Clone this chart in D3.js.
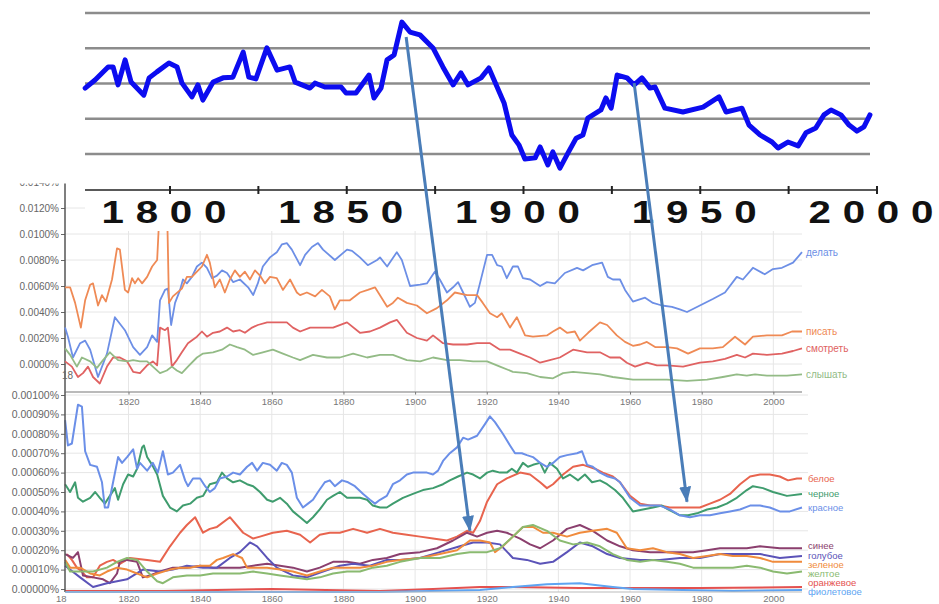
<!DOCTYPE html>
<html>
<head>
<meta charset="utf-8">
<script src="https://cdn.jsdelivr.net/npm/d3@7"></script>
<style>
  body { margin: 0; background: #fff; }
  svg { display: block; font-family: "Liberation Sans", Arial, sans-serif; }
</style>
</head>
<body>
<div id="wrapper"></div>
<script>
// ---- data ----
// top index curve: [year, index value]
const topCurve = [[1776,1.87],[1778.8,2.10],[1782.5,2.47],[1783.9,2.47],[1785.3,1.96],[1787.3,2.67],[1789,2.04],[1792.6,1.67],[1794.1,2.16],[1796.3,2.33],[1799.7,2.58],[1802,2.47],[1803.4,2.01],[1806.2,1.62],[1807.9,1.96],[1809.3,1.53],[1812.2,2.04],[1815,2.16],[1817.8,2.18],[1820.7,2.89],[1822.3,2.18],[1824.3,2.13],[1827.4,3.01],[1830.3,2.38],[1833.9,2.47],[1835.4,2.04],[1839.6,1.87],[1841,2.01],[1843.8,1.90],[1848.4,1.90],[1849.8,1.73],[1852.6,1.73],[1856.3,2.24],[1857.7,1.59],[1859.7,1.87],[1861.4,2.67],[1863.4,2.81],[1865.6,3.74],[1867.9,3.46],[1870.7,3.38],[1874.4,3.01],[1877.2,2.47],[1880.1,1.96],[1882.3,2.30],[1884.3,1.96],[1888,2.16],[1890.2,2.44],[1894.5,1.45],[1896.7,0.54],[1898.7,0.26],[1900.4,-0.14],[1903.3,-0.11],[1904.7,0.20],[1906.9,-0.31],[1908.3,0.06],[1910.3,-0.40],[1912.6,0.03],[1914.9,0.45],[1916.8,0.54],[1918.2,1.02],[1921.9,1.25],[1923.3,1.59],[1924.8,1.30],[1926.5,2.24],[1929.3,2.16],[1931.3,1.96],[1933.5,2.16],[1935.8,1.87],[1937.2,1.90],[1940,1.30],[1945.1,1.19],[1950.8,1.33],[1955.3,1.62],[1957.3,1.19],[1961.8,1.30],[1963.8,0.82],[1966.9,0.54],[1970.3,0.34],[1972,0.17],[1974.8,0.34],[1977.7,0.23],[1979.9,0.60],[1982.7,0.74],[1985,1.11],[1987,1.25],[1989.8,1.11],[1992.1,0.82],[1994.3,0.65],[1996.3,0.77],[1998,1.11]];
const topGrid = [0, 1, 2, 3, 4];
const topTicks = [1800, 1825, 1850, 1875, 1900, 1925, 1950, 1975, 2000];
const topLabels = [1800, 1850, 1900, 1950, 2000];

// middle chart, values in units of 0.0001 %
const delat = [[1802.3,28],[1803.1,21],[1804.5,5],[1806.5,16],[1807.9,18],[1809.3,11],[1811.5,-10],[1814,8],[1816.2,36],[1819,26],[1821.3,13],[1823.2,7],[1825.2,13],[1826.6,22],[1828,17],[1828.8,49],[1830.2,57],[1831,58],[1831.9,30],[1833,47],[1834.4,57],[1835.2,65],[1836.3,62],[1837.7,67],[1839.1,75],[1840.5,78],[1841.9,74],[1843.3,66],[1844.7,68],[1846.1,72],[1847.5,70],[1849.2,63],[1851.1,65],[1853.4,59],[1854.8,53],[1856.1,62],[1857.5,75],[1859.5,82],[1861.4,86],[1862.8,92],[1864.2,93],[1865.6,88],[1867.9,76],[1869.3,84],[1871.2,90],[1872.9,93],[1874.3,88],[1877.6,80],[1881,88],[1882.4,87],[1884.6,82],[1886.8,76],[1889.4,80],[1890.2,82],[1892.2,75],[1894.9,86],[1896.3,80],[1898.6,60],[1901.4,61],[1903.3,62],[1905.5,71],[1906.9,65],[1908.9,55],[1910.6,59],[1912,63],[1913.4,55],[1915.3,44],[1916.7,47],[1918.1,62],[1920.1,84],[1921.5,84],[1922.9,76],[1924.2,75],[1925.6,66],[1927.3,75],[1928.7,75],[1930.1,66],[1932.1,65],[1934.9,60],[1936.8,63],[1939,62],[1941.8,70],[1945.2,74],[1946.9,72],[1949.4,76],[1952.2,78],[1953.8,67],[1955.2,65],[1957.2,65],[1958.6,57],[1960.8,48],[1964.2,51],[1966.4,47],[1968.9,45],[1971.7,44],[1973.9,42],[1975.9,40],[1979.5,45],[1983.1,50],[1986.5,55],[1989.8,67],[1991.5,65],[1994.3,74],[1997.6,69],[1999.9,73],[2002.4,74],[2005.5,78],[2008,86]];
const pisat = [[1802.3,59],[1803.7,59],[1805.1,47],[1806.7,28],[1807.9,49],[1809.3,61],[1810.1,62],[1811.5,45],[1812.6,53],[1813.7,48],[1815.4,65],[1816.8,89],[1817.6,88],[1819,57],[1819.9,55],[1821,66],[1821.8,62],[1822.7,66],[1823.8,62],[1825.2,67],[1826.6,75],[1828,80],[1828.8,125],[1829.9,135],[1830.7,130],[1831.3,47],[1832.4,52],[1834.9,58],[1836.3,67],[1837.7,67],[1839.1,71],[1840.5,75],[1841.9,84],[1842.7,78],[1844.1,59],[1845.5,65],[1846.9,55],[1848.3,65],[1849.7,72],[1851.1,67],[1852.5,71],[1853.9,65],[1855.3,72],[1856.7,68],[1858.1,62],[1859.5,67],[1861.4,66],[1863.1,57],[1865.1,65],[1867,55],[1867.9,53],[1869.8,55],[1872.1,52],[1874,57],[1876.2,52],[1877.6,42],[1879,49],[1881.8,49],[1884.6,55],[1886.8,57],[1888.8,59],[1892.2,44],[1893.8,47],[1895.2,51],[1897.7,47],[1900.5,45],[1903.3,39],[1906.1,43],[1908.9,49],[1911.1,55],[1914.5,53],[1917.3,53],[1918.9,47],[1920.9,39],[1922.9,36],[1924.2,39],[1926.5,28],[1928.4,36],[1930.7,22],[1932.9,21],[1936.8,22],[1938.5,25],[1940.4,28],[1942.4,24],[1944.6,25],[1946,18],[1948.3,24],[1951.6,32],[1953.6,30],[1956.3,22],[1958.6,17],[1960.8,14],[1962.8,15],[1964.7,17],[1967,13],[1970.3,13],[1973.1,12],[1976.2,8],[1979.5,12],[1983.1,12],[1985.9,13],[1989.3,21],[1992.1,15],[1994.3,21],[1998.2,22],[2002.4,22],[2005.2,25],[2008,25]];
const smotret = [[1802.3,2],[1804.2,-2],[1805.9,-10],[1807.3,-7],[1808.7,-2],[1810.1,-10],[1812,-15],[1814,-2],[1815.7,5],[1817.6,5],[1819.6,2],[1821.3,-6],[1823.2,-7],[1825.2,-1],[1826.8,2],[1828,-1],[1828.8,28],[1830.2,26],[1831,28],[1832.1,-2],[1833.5,3],[1834.9,9],[1836.6,16],[1839.1,21],[1840.5,25],[1841.9,21],[1843.6,24],[1845.5,25],[1847.5,28],[1849.2,25],[1851.1,26],[1852.5,24],[1854.5,28],[1856.1,30],[1858.7,32],[1860.3,32],[1862.8,32],[1864.2,32],[1865.9,28],[1867.9,25],[1870.7,28],[1874.3,28],[1877.1,28],[1881,32],[1884.6,24],[1887.4,25],[1890.2,28],[1893,32],[1894.9,34],[1897.7,24],[1900.5,20],[1903.3,18],[1905,22],[1907.8,16],[1910.6,15],[1914.5,15],[1917.3,16],[1920.9,16],[1923.7,11],[1926.5,11],[1929.3,8],[1932.1,5],[1934.9,1],[1937.6,3],[1940.4,5],[1944.1,11],[1948,9],[1951.6,9],[1954.4,5],[1957.2,5],[1959.1,1],[1961.4,-2],[1964.7,1],[1967.5,-1],[1970.3,-1],[1974.8,-2],[1979.5,1],[1983.1,2],[1986.5,4],[1989.8,7],[1992.1,5],[1994.3,8],[1998.2,7],[2002.4,8],[2005.5,10],[2008,12]];
const slyshat = [[1802.3,12],[1803.7,7],[1805.6,-2],[1807,5],[1809.3,2],[1811.2,-3],[1812.9,3],[1814.8,9],[1817.1,3],[1819.6,2],[1821.3,3],[1823.2,2],[1825.2,2],[1826.8,-2],[1828.8,-7],[1830.7,-5],[1832.1,-2],[1833.5,-5],[1834.9,-7],[1836.6,-2],[1839.1,5],[1840.8,8],[1843.6,9],[1846.1,11],[1848.3,15],[1850.3,13],[1852.5,11],[1854.8,7],[1857.5,9],[1860.3,11],[1863.1,8],[1865.9,5],[1867.9,3],[1871.5,7],[1875.4,5],[1879,5],[1882.7,8],[1886.6,5],[1890.2,7],[1893.8,7],[1897.7,3],[1901.4,2],[1905,5],[1908.9,3],[1912.5,3],[1916.2,2],[1920.1,2],[1923.7,-2],[1927.3,-6],[1931.2,-7],[1934.9,-10],[1938.5,-11],[1941.3,-7],[1944.1,-6],[1948,-7],[1951.6,-8],[1955.2,-10],[1960.8,-12],[1965.6,-12],[1970.3,-12],[1975.9,-13],[1981.5,-12],[1985.9,-10],[1989.8,-8],[1992.6,-9],[1994.9,-8],[1998.2,-9],[2003.8,-9],[2008,-8]];
const midTicks = [0, 20, 40, 60, 80, 100, 120, 140];
const yearTicks = [1820, 1840, 1860, 1880, 1900, 1920, 1940, 1960, 1980, 2000];

// bottom chart, values in units of 0.00001 %
const beloe = [[1802.8,18],[1804.2,15],[1805.6,11],[1807,9],[1808.4,6],[1810.1,6],[1812,12],[1814,14],[1815.7,15],[1817.6,13],[1820.4,16],[1825.2,15],[1828.8,14],[1831.6,22],[1834.4,29],[1836.3,33],[1838.6,37],[1840.8,29],[1842.7,31],[1844.7,32],[1848.3,37],[1852,29],[1854.8,26],[1856.7,27],[1860.3,29],[1864.2,30],[1867.9,28],[1870.7,24],[1873.4,28],[1876.2,29],[1879,29],[1882.7,31],[1886.6,29],[1890.2,31],[1893.8,29],[1897.7,28],[1901.4,27],[1905,26],[1908.9,25],[1911.7,27],[1914.5,30],[1916.2,29],[1918.1,35],[1920.1,45],[1922.9,54],[1925.6,57],[1929.3,60],[1932.1,59],[1934.9,55],[1936.8,52],[1938.5,54],[1941.3,59],[1944.1,63],[1946.9,64],[1950.2,62],[1952.4,60],[1955.2,58],[1957.2,55],[1960,48],[1962.8,44],[1965.6,43],[1968.3,43],[1971.1,42],[1973.9,42],[1976.7,42],[1979.5,42],[1982.3,44],[1985.1,46],[1987.9,49],[1990.7,54],[1993.5,58],[1996.3,59],[1999,59],[2001.8,58],[2004.1,56],[2006.6,57],[2008,57]];
const chernoe = [[1802.3,54],[1803.7,50],[1805.1,55],[1805.9,47],[1807.3,45],[1809.3,47],[1810.7,50],[1812,47],[1813.4,44],[1814.8,48],[1816.2,52],[1817.1,46],[1818.5,54],[1819.9,59],[1821.3,58],[1822.4,62],[1823.8,73],[1824.3,74],[1825.2,68],[1826.6,64],[1828,59],[1829.6,48],[1831.6,42],[1833.5,40],[1835.2,43],[1837.2,44],[1839.1,47],[1840.8,48],[1842.7,54],[1844.7,55],[1846.1,60],[1847.5,57],[1849.2,55],[1851.1,56],[1853.1,54],[1854.8,53],[1856.7,50],[1858.7,46],[1860.3,45],[1862.3,47],[1864.2,44],[1865.9,40],[1867.9,37],[1869.8,34],[1871.5,37],[1873.4,41],[1875.4,46],[1877.1,48],[1879,50],[1881,47],[1882.7,47],[1884.6,47],[1886.6,46],[1888.2,43],[1890.2,42],[1892.1,42],[1893.8,44],[1896.6,47],[1899.4,49],[1902.2,51],[1905,52],[1907.8,54],[1909.7,56],[1912,58],[1914.5,60],[1916.2,59],[1918.1,57],[1920.1,60],[1921.7,61],[1923.7,60],[1925.6,60],[1927,62],[1928.4,60],[1930.1,65],[1931.5,63],[1932.9,64],[1934.9,65],[1936.2,60],[1937.6,65],[1939.6,62],[1941.3,57],[1943.2,59],[1945.5,56],[1947.4,59],[1949.4,55],[1951.6,56],[1953.6,54],[1955.8,51],[1958,47],[1960.8,40],[1963.6,41],[1966.4,42],[1968.9,43],[1970.6,41],[1973.9,38],[1976.2,38],[1978.7,39],[1981.5,41],[1984.3,42],[1987,44],[1989.8,47],[1992.6,51],[1994.3,53],[1997.1,52],[1999.9,50],[2003.8,48],[2008,49]];
const krasnoe = [[1802.3,87],[1803.1,74],[1804.2,75],[1805.9,95],[1807,94],[1807.9,71],[1809.3,64],[1811.2,63],[1812.6,55],[1813.4,42],[1814.3,42],[1815.7,55],[1817.1,68],[1818.2,65],[1819.6,68],[1821.3,72],[1822.4,62],[1823.2,65],[1825.2,61],[1826.8,65],[1828.2,60],[1829.6,71],[1831,59],[1832.4,60],[1834.4,64],[1835.8,56],[1836.6,53],[1838,57],[1840,57],[1841.4,53],[1842.7,50],[1844.1,52],[1845.5,57],[1847.5,58],[1849.2,60],[1851.1,59],[1853.1,63],[1854.5,65],[1855.9,61],[1857.5,65],[1859.5,64],[1861.4,61],[1862.8,65],[1864.2,64],[1865.6,60],[1867,47],[1868.7,42],[1870.1,44],[1871.5,46],[1872.9,50],[1874.8,55],[1876.2,56],[1877.6,53],[1879.6,56],[1881.3,55],[1883.2,53],[1885.5,49],[1887.4,46],[1888.8,44],[1890.2,46],[1892.1,48],[1893.8,54],[1895.8,56],[1897.7,59],[1899.4,60],[1901.4,60],[1903.3,60],[1905,59],[1906.4,61],[1907.8,66],[1909.7,70],[1911.7,73],[1913.4,78],[1914.8,77],[1917.3,79],[1919.5,85],[1920.9,89],[1922.3,86],[1924.5,80],[1926.5,74],[1927.9,70],[1929.8,70],[1931.2,69],[1932.9,68],[1934.9,65],[1936.8,63],[1938.5,65],[1940.4,68],[1942.4,69],[1945.2,70],[1946.6,71],[1948,64],[1949.6,63],[1951.6,60],[1953.8,58],[1955.8,57],[1957.2,55],[1960,47],[1962.8,43],[1965.6,43],[1968.3,43],[1971.1,41],[1973.9,38],[1976.7,37],[1979.5,38],[1982.3,38],[1985.1,39],[1987.9,40],[1990.7,41],[1993.5,43],[1996.3,43],[1999,42],[2001.8,40],[2004.6,40],[2008,42]];
const sinee = [[1802.3,18],[1804.5,16],[1805.9,19],[1807.3,7],[1810.1,6],[1812.9,5],[1814.8,3],[1816.8,8],[1817.6,14],[1819.6,15],[1822.4,14],[1824,6],[1826,7],[1828.8,9],[1832.4,11],[1836.3,11],[1840,12],[1843.6,11],[1847.5,11],[1851.1,11],[1854.8,12],[1858.7,13],[1862.3,12],[1865.9,11],[1869.8,9],[1873.4,11],[1877.1,14],[1881,14],[1884.6,13],[1888.2,15],[1892.1,16],[1895.8,18],[1901.4,19],[1906.1,21],[1910.6,25],[1914.5,29],[1917.3,27],[1920.1,29],[1922.9,30],[1925.6,29],[1929.3,26],[1932.1,23],[1934.9,21],[1938.5,25],[1942.4,31],[1946,33],[1949.6,30],[1953.6,25],[1957.2,22],[1960.8,20],[1965.6,19],[1970.3,19],[1973.9,19],[1977.6,19],[1981.5,20],[1985.1,21],[1992.6,21],[1996.3,22],[2001.8,21],[2008,21]];
const goluboe = [[1802.3,12],[1806.5,6],[1810.1,1],[1814,3],[1819.6,5],[1824,10],[1828.8,9],[1832.4,10],[1836.3,12],[1840.8,11],[1844.7,11],[1848.3,16],[1851.1,19],[1853.9,24],[1855.9,22],[1858.7,16],[1861.4,11],[1865.9,7],[1869.8,6],[1874.3,9],[1879,12],[1882.7,13],[1887.4,12],[1892.1,15],[1895.8,15],[1901.4,16],[1906.9,19],[1912.5,22],[1916.2,24],[1920.1,24],[1923.7,23],[1927.3,16],[1931.2,15],[1934.9,13],[1938.5,14],[1942.4,19],[1946,24],[1949.6,22],[1953.6,18],[1957.2,16],[1962.8,15],[1968.3,15],[1973.9,16],[1979.5,16],[1985.1,18],[1996.3,18],[2001.8,16],[2008,17]];
const zelenoe = [[1802.3,15],[1803.7,11],[1806.5,11],[1809.3,8],[1812,7],[1814,9],[1816.8,11],[1819.6,10],[1822.4,8],[1825.2,6],[1828,8],[1831.6,10],[1834.4,11],[1837.2,11],[1840,12],[1842.7,12],[1844.7,15],[1846.4,16],[1849.2,18],[1851.7,16],[1853.1,11],[1854.8,11],[1858.7,11],[1862.3,10],[1865.9,9],[1869.8,7],[1873.4,9],[1877.1,11],[1881,11],[1884.6,11],[1888.2,12],[1892.1,14],[1895.8,15],[1901.4,16],[1906.9,18],[1911.7,20],[1915.3,25],[1918.1,25],[1920.9,24],[1922.3,19],[1924.5,22],[1927.3,27],[1930.1,32],[1932.9,32],[1935.7,29],[1938.5,29],[1942.4,27],[1946,29],[1949.6,30],[1953.6,31],[1956.3,29],[1959.1,21],[1962.8,20],[1966.4,21],[1970.3,19],[1973.9,18],[1977.6,16],[1981.5,17],[1985.1,18],[1988.7,17],[1992.6,17],[1996.3,16],[1999.9,14],[2003.8,14],[2008,14]];
const zheltoe = [[1802.3,14],[1803.7,9],[1806.5,9],[1810.1,9],[1814,11],[1816.8,14],[1819.6,16],[1822.4,15],[1825.2,9],[1828,4],[1829.6,3],[1832.4,6],[1836.3,7],[1840,7],[1843.6,8],[1847.5,8],[1851.1,8],[1854.8,9],[1858.7,8],[1862.3,7],[1865.9,6],[1869.8,5],[1873.4,6],[1877.1,8],[1881,9],[1884.6,9],[1888.2,11],[1892.1,12],[1895.8,14],[1901.4,16],[1906.9,16],[1911.7,18],[1915.3,19],[1920.1,19],[1923.7,21],[1927.3,27],[1930.1,32],[1932.9,33],[1936.8,30],[1940.4,25],[1944.1,23],[1948,24],[1951.6,22],[1955.2,18],[1959.1,15],[1962.8,14],[1966.4,15],[1970.3,14],[1973.9,13],[1977.6,11],[1981.5,11],[1985.1,11],[1988.7,11],[1992.6,12],[1996.3,11],[1999.9,9],[2003.8,8],[2008,9]];
const oranzhevoe = [[1802.3,-1],[1830,-1],[1860,0],[1890.2,-1],[1905,0],[1918.1,1],[1927.3,1],[1946,0.5],[1960.8,0.5],[1979.5,0.5],[2008,1]];
const fioletovoe = [[1802.3,-1.5],[1890.2,-1.5],[1918.1,-0.5],[1927.3,1],[1936.8,2.5],[1946,3],[1955.2,1],[1960.8,0],[1988.7,-1],[2008,-0.5]];
const botTicks = [0, 10, 20, 30, 40, 50, 60, 70, 80, 90, 100];

// arrows: from a point of the top curve to a point of the bottom chart
const arrowLinks = [
  { fromYear: 1866.8, fromVal: 3.32, toYear: 1915.3, toVal: 30 },
  { fromYear: 1931.3, fromVal: 2.01, toYear: 1975.9, toVal: 45 }
];

const midSeries = [
  { name: "делать", color: "#6d8fe6", points: delat },
  { name: "писать", color: "#ef8a55", points: pisat },
  { name: "смотреть", color: "#e06262", points: smotret },
  { name: "слышать", color: "#93bb86", points: slyshat }
];
const botSeries = [
  { name: "белое", color: "#e8644e", points: beloe },
  { name: "черное", color: "#3f9c6e", points: chernoe },
  { name: "красное", color: "#6b8fe8", points: krasnoe },
  { name: "синее", color: "#8b3f6e", points: sinee },
  { name: "голубое", color: "#5b53b8", points: goluboe },
  { name: "зеленое", color: "#f08b3c", points: zelenoe },
  { name: "желтое", color: "#8aba70", points: zheltoe },
  { name: "оранжевое", color: "#e4514f", points: oranzhevoe },
  { name: "фиолетовое", color: "#5ea4f2", points: fioletovoe }
];

// ---- canvas ----
const W = 939, H = 604;
const svg = d3.select("#wrapper").append("svg").attr("width", W).attr("height", H);

const xYear = d3.scaleLinear().domain([1802, 2008]).range([64, 802]);
const yMid = d3.scaleLinear().domain([-20, 140]).range([390, 182]);
const yBot = d3.scaleLinear().domain([0, 100]).range([589, 395]);
const xTop = d3.scaleLinear().domain([1800, 2000]).range([170, 877]);
const yTop = d3.scaleLinear().domain([0, 4]).range([154, 13]);

// spread labels so they do not pile up
function spreadLabels(items, gap, maxY) {
  items.sort((a, b) => a.y - b.y);
  for (let i = 1; i < items.length; i++) {
    if (items[i].y < items[i - 1].y + gap) items[i].y = items[i - 1].y + gap;
  }
  const last = items[items.length - 1];
  if (last.y > maxY) {
    last.y = maxY;
    for (let i = items.length - 2; i >= 0; i--) items[i].y = Math.min(items[i].y, items[i + 1].y - gap);
  }
  return items;
}

const defs = svg.append("defs");
defs.append("clipPath").attr("id", "clipMid")
  .append("rect").attr("x", 0).attr("y", 183.5).attr("width", W).attr("height", 392 - 183.5);
defs.append("clipPath").attr("id", "clipBot")
  .append("rect").attr("x", 0).attr("y", 392).attr("width", W).attr("height", H - 392);
defs.append("marker").attr("id", "arrowHead")
  .attr("viewBox", "0 -7 16 14").attr("refX", 15).attr("refY", 0)
  .attr("markerWidth", 16).attr("markerHeight", 14)
  .attr("markerUnits", "userSpaceOnUse").attr("orient", "auto")
  .append("path").attr("d", "M0,-6L16,0L0,6Z").attr("fill", "#4a7db8");

/* middle chart */
const gMid = svg.append("g").attr("clip-path", "url(#clipMid)");

gMid.selectAll(".hgrid").data(midTicks).join("line")
  .attr("x1", 65).attr("x2", 802)
  .attr("y1", d => yMid(d)).attr("y2", d => yMid(d))
  .attr("stroke", "#e6e6e6");
gMid.selectAll(".vgrid").data(yearTicks).join("line")
  .attr("x1", d => xYear(d)).attr("x2", d => xYear(d))
  .attr("y1", 183).attr("y2", 392)
  .attr("stroke", "#e6e6e6");

const midAxis = gMid.append("g").attr("transform", "translate(65,0)")
  .call(d3.axisLeft(yMid).tickValues(midTicks).tickSize(4).tickPadding(2)
    .tickFormat(d => (d / 1e4).toFixed(4) + "%"));
midAxis.select(".domain").remove();
midAxis.selectAll("line").attr("stroke", "#666");
midAxis.selectAll("text").attr("fill", "#666").style("font-size", "10px");
gMid.append("line").attr("x1", 65).attr("x2", 65).attr("y1", 183).attr("y2", 392)
  .attr("stroke", "#555").attr("stroke-width", 1.5);

const lineMid = d3.line().x(d => xYear(d[0])).y(d => yMid(d[1]));
gMid.selectAll(".midLine").data(midSeries).join("path")
  .attr("d", d => lineMid(d.points))
  .attr("fill", "none")
  .attr("stroke", d => d.color)
  .attr("stroke-width", 1.8)
  .attr("stroke-linejoin", "round");

const midLabels = spreadLabels(midSeries.map(s => ({
  name: s.name, color: s.color, y: yMid(s.points[s.points.length - 1][1])
})), 9, 390);
gMid.selectAll(".midLabel").data(midLabels).join("text")
  .attr("x", 806).attr("y", d => d.y).attr("dy", "0.35em")
  .attr("fill", d => d.color).style("font-size", "10px")
  .text(d => d.name);

gMid.append("text").attr("x", 62).attr("y", 379).attr("fill", "#666")
  .style("font-size", "10px").text("18");

// x axis of the middle chart, sitting on top of the bottom chart
const midXAxis = svg.append("g").attr("transform", "translate(0,392)")
  .call(d3.axisBottom(xYear).tickValues(yearTicks).tickSize(3).tickPadding(3)
    .tickFormat(d3.format("d")));
midXAxis.select(".domain").attr("stroke", "#777").attr("stroke-width", 1.2)
  .attr("d", "M65,0H802");
midXAxis.selectAll("line").attr("stroke", "#777");
midXAxis.selectAll("text").attr("fill", "#777").style("font-size", "9.5px");

/* bottom chart */
const gBot = svg.append("g").attr("clip-path", "url(#clipBot)");

gBot.selectAll(".hgrid").data(botTicks).join("line")
  .attr("x1", 65).attr("x2", 808)
  .attr("y1", d => yBot(d)).attr("y2", d => yBot(d))
  .attr("stroke", "#e6e6e6");
gBot.selectAll(".vgrid").data(yearTicks).join("line")
  .attr("x1", d => xYear(d)).attr("x2", d => xYear(d))
  .attr("y1", 404).attr("y2", 592)
  .attr("stroke", "#e6e6e6");

const botAxis = svg.append("g").attr("transform", "translate(65,0)")
  .call(d3.axisLeft(yBot).tickValues(botTicks).tickSize(4).tickPadding(2)
    .tickFormat(d => (d / 1e5).toFixed(5) + "%"));
botAxis.select(".domain").remove();
botAxis.selectAll("line").attr("stroke", "#666");
botAxis.selectAll("text").attr("fill", "#666").style("font-size", "10.5px");
svg.append("line").attr("x1", 65).attr("x2", 65).attr("y1", 392).attr("y2", 592)
  .attr("stroke", "#555").attr("stroke-width", 1.5);

const botXAxis = svg.append("g").attr("transform", "translate(0,592)")
  .call(d3.axisBottom(xYear).tickValues(yearTicks).tickSize(0).tickPadding(3)
    .tickFormat(d3.format("d")));
botXAxis.select(".domain").attr("stroke", "#bbb").attr("d", "M65,0H802");
botXAxis.selectAll("text").attr("fill", "#777").style("font-size", "9.5px");
svg.append("text").attr("x", 56).attr("y", 602).attr("fill", "#777")
  .style("font-size", "9.5px").text("18");

const lineBot = d3.line().x(d => xYear(d[0])).y(d => yBot(d[1]));
gBot.selectAll(".botLine").data(botSeries).join("path")
  .attr("d", d => lineBot(d.points))
  .attr("fill", "none")
  .attr("stroke", d => d.color)
  .attr("stroke-width", 2)
  .attr("stroke-linejoin", "round");

const botLabels = spreadLabels(botSeries.map(s => ({
  name: s.name, color: s.color, y: yBot(s.points[s.points.length - 1][1])
})), 9.2, 592);
svg.selectAll(".botLabel").data(botLabels).join("text")
  .attr("x", 808).attr("y", d => d.y).attr("dy", "0.35em")
  .attr("fill", d => d.color).style("font-size", "9.5px")
  .text(d => d.name);

/* top chart, pasted over the top of the middle chart */
const gTop = svg.append("g");
gTop.append("rect").attr("x", 85).attr("y", 0).attr("width", W - 85).attr("height", 231)
  .attr("fill", "#fff");

gTop.selectAll(".topGrid").data(topGrid).join("line")
  .attr("x1", 85).attr("x2", 870)
  .attr("y1", d => yTop(d)).attr("y2", d => yTop(d))
  .attr("stroke", "#8c8c8c").attr("stroke-width", 2.5);

const lineTop = d3.line().x(d => xTop(d[0])).y(d => yTop(d[1]));
gTop.append("path").datum(topCurve)
  .attr("d", lineTop)
  .attr("fill", "none")
  .attr("stroke", "#0c0cf0")
  .attr("stroke-width", 5)
  .attr("stroke-linejoin", "round")
  .attr("stroke-linecap", "round");

gTop.append("line").attr("x1", 85).attr("x2", xTop(2000)).attr("y1", 190).attr("y2", 190)
  .attr("stroke", "#222").attr("stroke-width", 1.5);
gTop.selectAll(".topTick").data(topTicks).join("line")
  .attr("x1", d => xTop(d)).attr("x2", d => xTop(d))
  .attr("y1", 186).attr("y2", 194)
  .attr("stroke", "#222").attr("stroke-width", 2);
// wide, stretched year labels
gTop.selectAll(".topLabel").data(topLabels).join("text")
  .attr("transform", d => `translate(${xTop(d) - 6},223) scale(1.3,1)`)
  .attr("text-anchor", "middle")
  .attr("textLength", 96).attr("lengthAdjust", "spacing")
  .style("font-size", "31px").style("font-weight", "bold")
  .attr("fill", "#111")
  .text(d => d);

/* arrows */
svg.selectAll(".arrow").data(arrowLinks).join("line")
  .attr("x1", d => xTop(d.fromYear)).attr("y1", d => yTop(d.fromVal))
  .attr("x2", d => xYear(d.toYear)).attr("y2", d => yBot(d.toVal))
  .attr("stroke", "#4a7db8").attr("stroke-width", 3)
  .attr("marker-end", "url(#arrowHead)");
</script>
</body>
</html>
